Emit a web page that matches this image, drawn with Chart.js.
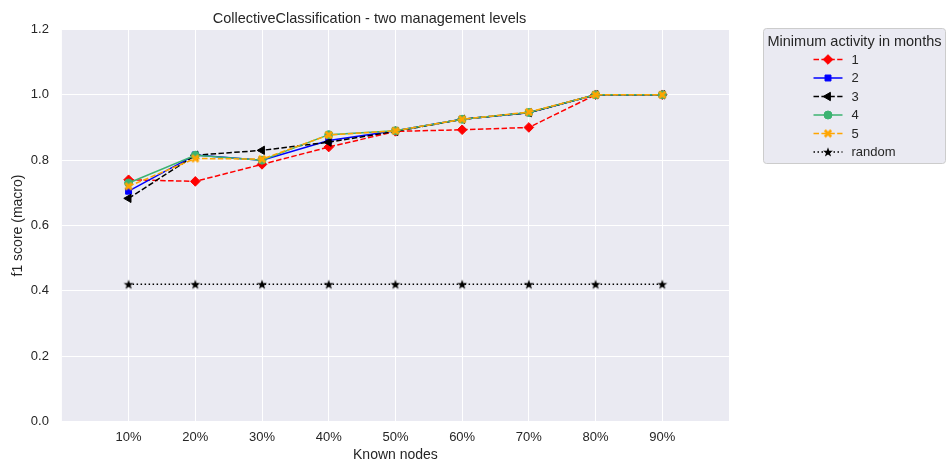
<!DOCTYPE html>
<html>
<head>
<meta charset="utf-8">
<script src="https://cdn.jsdelivr.net/npm/chart.js@4/dist/chart.umd.min.js"></script>
<style>
  html, body { margin: 0; padding: 0; background: #fff; }
  #wrap { width: 947px; height: 466px; }
</style>
</head>
<body>
<div id="wrap"><canvas id="chart"></canvas></div>
<script>
// data
const knownNodes = [10, 20, 30, 40, 50, 60, 70, 80, 90];
const tickLabels = ['10%', '20%', '30%', '40%', '50%', '60%', '70%', '80%', '90%'];
const yTicks = [0.0, 0.2, 0.4, 0.6, 0.8, 1.0, 1.2];
const seriesNames = ['1', '2', '3', '4', '5', 'random'];
const act1 = [0.740, 0.735, 0.787, 0.840, 0.888, 0.893, 0.900, 1.000, 1.000];
const act2 = [0.705, 0.816, 0.800, 0.860, 0.890, 0.925, 0.945, 1.000, 1.000];
const act3 = [0.683, 0.815, 0.830, 0.855, 0.888, 0.925, 0.945, 1.000, 1.000];
const act4 = [0.730, 0.815, 0.800, 0.878, 0.890, 0.925, 0.946, 1.000, 1.000];
const act5 = [0.720, 0.805, 0.803, 0.877, 0.890, 0.925, 0.947, 1.000, 1.000];
const randomScore = [0.42, 0.42, 0.42, 0.42, 0.42, 0.42, 0.42, 0.42, 0.42];

const FONT = "'Liberation Sans', Arial, sans-serif";
const TXT = '#262626';

// filled star and filled X markers (matplotlib '*' and 'X')
function starMarker(color) {
  const c = document.createElement('canvas');
  c.width = 12; c.height = 12;
  const g = c.getContext('2d');
  g.fillStyle = color;
  g.beginPath();
  for (let i = 0; i < 10; i++) {
    const r = i % 2 === 0 ? 5.2 : 2.1;
    const a = -Math.PI / 2 + i * Math.PI / 5;
    g.lineTo(6 + r * Math.cos(a), 6.4 + r * Math.sin(a));
  }
  g.closePath();
  g.fill();
  return c;
}
function xMarker(color) {
  const c = document.createElement('canvas');
  c.width = 10; c.height = 10;
  const g = c.getContext('2d');
  g.strokeStyle = color;
  g.lineWidth = 2.8;
  g.beginPath();
  g.moveTo(1.8, 1.8); g.lineTo(8.2, 8.2);
  g.moveTo(8.2, 1.8); g.lineTo(1.8, 8.2);
  g.stroke();
  return c;
}

const pts = arr => arr.map((v, i) => ({ x: knownNodes[i], y: v }));

const styles = [
  { color: '#ff0000', dash: [5.5, 2.4], point: 'rectRot', r: 4.8 },
  { color: '#0000ff', dash: [], point: 'rect', r: 4.2 },
  { color: '#000000', dash: [5.5, 2.4], point: 'triangle', r: 4.8, rot: -90 },
  { color: '#3cb371', dash: [], point: 'circle', r: 4 },
  { color: '#ffa500', dash: [5.5, 2.4], point: xMarker('#ffa500'), r: 5 },
  { color: '#000000', dash: [1.5, 2.5], point: starMarker('#000000'), r: 6 }
];
const allSeries = [act1, act2, act3, act4, act5, randomScore];

const datasets = allSeries.map((arr, i) => ({
  label: seriesNames[i],
  data: pts(arr),
  borderColor: styles[i].color,
  backgroundColor: styles[i].color,
  pointBackgroundColor: styles[i].color,
  pointBorderColor: styles[i].color,
  borderWidth: 1.5,
  borderDash: styles[i].dash,
  pointStyle: styles[i].point,
  pointRadius: styles[i].r,
  pointRotation: styles[i].rot || 0,
  pointBorderWidth: 1,
  tension: 0,
  order: 10 - i
}));

// plot background
const plotBg = {
  id: 'plotBg',
  beforeDraw(chart) {
    const a = chart.chartArea, ctx = chart.ctx;
    ctx.save();
    ctx.fillStyle = '#EAEAF2';
    ctx.fillRect(a.left, a.top, a.right - a.left, a.bottom - a.top);
    ctx.restore();
  }
};

// legend outside the plot, with line + marker samples
const legendBox = {
  id: 'legendBox',
  afterDraw(chart) {
    const ctx = chart.ctx;
    const x0 = 763.5, y0 = 28.5, w = 182, h = 135;
    ctx.save();
    ctx.fillStyle = '#EAEAF2';
    ctx.strokeStyle = '#cccccc';
    ctx.lineWidth = 1;
    ctx.beginPath();
    ctx.roundRect(x0, y0, w, h, 3);
    ctx.fill();
    ctx.stroke();
    ctx.fillStyle = TXT;
    ctx.font = '14.5px ' + FONT;
    ctx.textAlign = 'center';
    ctx.textBaseline = 'middle';
    ctx.fillText('Minimum activity in months', x0 + w / 2, y0 + 13.5);
    chart.data.datasets.forEach((ds, i) => {
      const y = y0 + 31 + i * 18.5;
      ctx.strokeStyle = ds.borderColor;
      ctx.lineWidth = 1.5;
      ctx.setLineDash(ds.borderDash);
      ctx.beginPath();
      ctx.moveTo(x0 + 50, y);
      ctx.lineTo(x0 + 79, y);
      ctx.stroke();
      ctx.setLineDash([]);
      ctx.fillStyle = ds.pointBackgroundColor;
      ctx.strokeStyle = ds.pointBorderColor;
      ctx.lineWidth = 1;
      Chart.helpers.drawPoint(ctx, {
        pointStyle: ds.pointStyle, radius: ds.pointRadius,
        rotation: ds.pointRotation, borderWidth: 1
      }, x0 + 64.5, y);
      ctx.fillStyle = TXT;
      ctx.font = '13px ' + FONT;
      ctx.textAlign = 'left';
      ctx.fillText(ds.label, x0 + 88, y + 0.5);
    });
    ctx.restore();
  }
};

new Chart(document.getElementById('chart').getContext('2d'), {
  type: 'line',
  data: { datasets },
  plugins: [plotBg, legendBox],
  options: {
    responsive: true,
    maintainAspectRatio: false,
    animation: false,
    layout: { padding: { left: 10, right: 218, top: 0, bottom: 2 } },
    plugins: {
      legend: { display: false },
      tooltip: { enabled: false },
      title: {
        display: true,
        text: 'CollectiveClassification - two management levels',
        color: TXT,
        font: { family: FONT, size: 14.5, weight: 'normal' },
        padding: { top: 10, bottom: 2 }
      }
    },
    scales: {
      x: {
        type: 'linear',
        min: 0,
        max: 100,
        afterBuildTicks(scale) {
          scale.ticks = knownNodes.map(v => ({ value: v }));
        },
        ticks: {
          color: TXT,
          font: { family: FONT, size: 13 },
          padding: 8,
          maxRotation: 0,
          callback: (v) => tickLabels[knownNodes.indexOf(v)] || ''
        },
        grid: { color: '#ffffff', lineWidth: 1, drawTicks: false, tickLength: 0 },
        border: { display: false },
        title: {
          display: true, text: 'Known nodes', color: TXT,
          font: { family: FONT, size: 14 }, padding: { top: -6, bottom: 0 }
        }
      },
      y: {
        min: 0,
        max: 1.2,
        afterBuildTicks(scale) {
          scale.ticks = yTicks.map(v => ({ value: v }));
        },
        ticks: {
          color: TXT,
          font: { family: FONT, size: 13 },
          padding: 13,
          callback: v => v.toFixed(1)
        },
        grid: { color: '#ffffff', lineWidth: 1, drawTicks: false, tickLength: 0 },
        border: { display: false },
        title: {
          display: true, text: 'f1 score (macro)', color: TXT,
          font: { family: FONT, size: 14 }, padding: { top: 0, bottom: -9 }
        }
      }
    }
  }
});
</script>
</body>
</html>
